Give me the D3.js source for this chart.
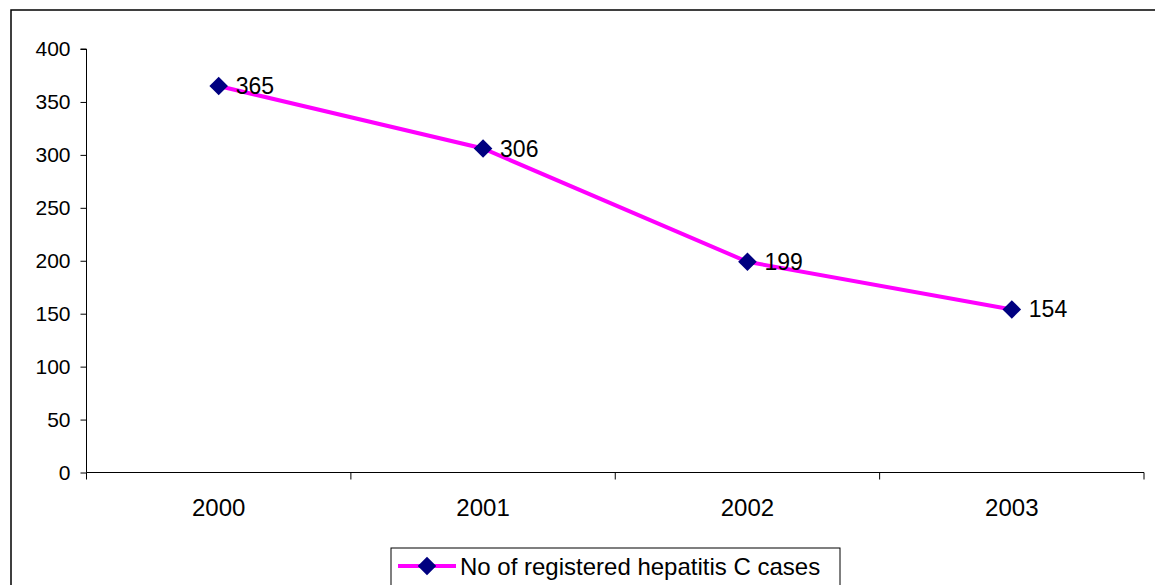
<!DOCTYPE html>
<html><head><meta charset="utf-8">
<script src="https://cdn.jsdelivr.net/npm/d3@7"></script>
<style>html,body{margin:0;padding:0;background:#fff;overflow:hidden}text{font-family:"Liberation Sans",Arial,sans-serif;fill:#000}</style>
</head><body>
<svg id="c" width="1155" height="585"></svg>
<script>
const categories = ["2000","2001","2002","2003"];
const values = [365, 306, 199, 154];
const yTicks = [0,50,100,150,200,250,300,350,400];
const seriesName = "No of registered hepatitis C cases";

const svg = d3.select("#c");
// outer chart border (cropped on right/bottom)
svg.append("rect").attr("x",11).attr("y",10).attr("width",1160).attr("height",600)
  .attr("fill","none").attr("stroke","#000").attr("stroke-width",1.5);

const x0 = 86.5, x1 = 1144, yTop = 49, yBot = 472.5;
const x = d3.scaleBand().domain(categories).range([x0,x1]);
const y = d3.scaleLinear().domain([0,400]).range([yBot,yTop]);

// y axis
const ya = svg.append("g").attr("transform",`translate(${x0},0)`)
  .call(d3.axisLeft(y).tickValues(yTicks).tickSize(6).tickPadding(10));
ya.select(".domain").attr("stroke","#000").attr("d",`M-6,${y(400)}H0V${yBot}`);
ya.selectAll(".tick line").attr("stroke","#000");
ya.selectAll("text").style("font-size","21px").attr("font-family",null);

// x axis
const xa = svg.append("g").attr("transform",`translate(0,${yBot})`);
xa.append("line").attr("x1",x0).attr("x2",x1).attr("stroke","#000");
const bounds = categories.map(c=>x(c)).concat([x1]);
xa.selectAll("line.tk").data(bounds).join("line").attr("class","tk")
  .attr("x1",d=>d).attr("x2",d=>d).attr("y1",0).attr("y2",7).attr("stroke","#000");
xa.selectAll("text").data(categories).join("text")
  .attr("x",d=>x(d)+x.bandwidth()/2).attr("y",43).attr("text-anchor","middle")
  .style("font-size","24px").text(d=>d);

// line
const pts = categories.map((c,i)=>[x(c)+x.bandwidth()/2, y(values[i])]);
svg.append("path").attr("d",d3.line()(pts)).attr("fill","none")
  .attr("stroke","#FF00FF").attr("stroke-width",4);
const diamond = d3.symbol().type(d3.symbolDiamond2).size(220);
svg.selectAll("path.m").data(pts).join("path").attr("class","m")
  .attr("transform",d=>`translate(${d[0]},${d[1]})`).attr("d",diamond).attr("fill","#000080");
svg.selectAll("text.lbl").data(values).join("text").attr("class","lbl")
  .attr("x",(d,i)=>pts[i][0]+17).attr("y",(d,i)=>pts[i][1]+8)
  .style("font-size","23px").text(d=>d);

// legend
const lg = svg.append("g");
lg.append("rect").attr("x",391).attr("y",548).attr("width",449).attr("height",50)
  .attr("fill","#fff").attr("stroke","#000").attr("stroke-width",1);
lg.append("line").attr("x1",398).attr("x2",456).attr("y1",566).attr("y2",566)
  .attr("stroke","#FF00FF").attr("stroke-width",4);
lg.append("path").attr("transform","translate(427,566)").attr("d",diamond).attr("fill","#000080");
lg.append("text").attr("x",460).attr("y",575).style("font-size","24px").text(seriesName);
</script>
</body></html>
